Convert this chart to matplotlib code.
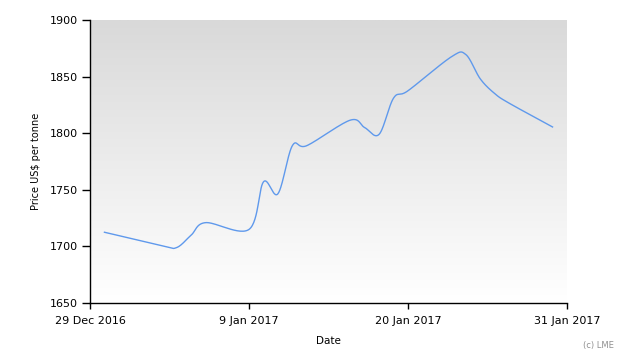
import datetime as dt

import matplotlib
matplotlib.use("Agg")
import matplotlib.dates as mdates
import matplotlib.pyplot as plt
import numpy as np

dates = [
    "2016-12-30", "2017-01-03", "2017-01-04", "2017-01-05", "2017-01-06",
    "2017-01-09", "2017-01-10", "2017-01-11", "2017-01-12", "2017-01-13",
    "2017-01-16", "2017-01-17", "2017-01-18", "2017-01-19", "2017-01-20",
    "2017-01-23", "2017-01-24", "2017-01-25", "2017-01-26", "2017-01-27",
    "2017-01-30",
]
prices = [
    1712.5, 1700.5, 1699.0, 1710.0, 1721.0,
    1715.0, 1757.0, 1746.5, 1789.0, 1789.0,
    1811.5, 1805.0, 1799.0, 1831.0, 1837.5,
    1867.5, 1869.5, 1848.0, 1835.0, 1826.5,
    1805.5,
]
tick_dates = ["2016-12-29", "2017-01-09", "2017-01-20", "2017-01-31"]
tick_labels = ["29 Dec 2016", "9 Jan 2017", "20 Jan 2017", "31 Jan 2017"]
y_ticks = [1650, 1700, 1750, 1800, 1850, 1900]

LINE_COLOR = "#5f99ec"
TEXT_COLOR = "black"


def to_num(values):
    return np.array([mdates.date2num(dt.datetime.strptime(v, "%Y-%m-%d")) for v in values])


def smooth_curve(x, y, steps=30):
    # catmull-rom style smoothing, like the original chart's spline
    px = np.concatenate(([2 * x[0] - x[1]], x, [2 * x[-1] - x[-2]]))
    py = np.concatenate(([2 * y[0] - y[1]], y, [2 * y[-1] - y[-2]]))
    xs, ys = [], []
    t = np.linspace(0, 1, steps, endpoint=False)
    for i in range(1, len(px) - 2):
        for arr, out in ((px, xs), (py, ys)):
            p0, p1, p2, p3 = arr[i - 1], arr[i], arr[i + 1], arr[i + 2]
            out.extend(
                0.5 * ((2 * p1) + (-p0 + p2) * t
                       + (2 * p0 - 5 * p1 + 4 * p2 - p3) * t ** 2
                       + (-p0 + 3 * p1 - 3 * p2 + p3) * t ** 3)
            )
    xs.append(x[-1])
    ys.append(y[-1])
    return np.array(xs), np.array(ys)


x = to_num(dates)
y = np.array(prices)
xt = to_num(tick_dates)

fig = plt.figure(figsize=(6.3, 3.6), dpi=100)
fig.patch.set_facecolor("white")
ax = fig.add_axes([90 / 630, 57 / 360, 477 / 630, 283 / 360])

ax.set_xlim(xt[0], xt[-1])
ax.set_ylim(y_ticks[0], y_ticks[-1])

gradient = np.linspace(0, 1, 256).reshape(-1, 1)
ax.imshow(
    gradient,
    extent=(xt[0], xt[-1], y_ticks[0], y_ticks[-1]),
    aspect="auto",
    cmap=matplotlib.colors.LinearSegmentedColormap.from_list("bg", ["#d9d9d9", "#ffffff"]),
    origin="upper",
    zorder=0,
)

sx, sy = smooth_curve(x, y)
ax.plot(sx, sy, color=LINE_COLOR, linewidth=1.0, zorder=2)

ax.set_xticks(xt)
ax.set_xticklabels(tick_labels)
ax.set_yticks(y_ticks)

for side in ("top", "right"):
    ax.spines[side].set_visible(False)
for side in ("left", "bottom"):
    ax.spines[side].set_color("black")
    ax.spines[side].set_linewidth(1.0)
ax.tick_params(labelsize=8, colors=TEXT_COLOR, width=1, direction="out")
ax.tick_params(axis="y", length=6, pad=3)
ax.tick_params(axis="x", length=4, pad=5)

ax.set_ylabel("Price US$ per tonne", fontsize=7)
ax.yaxis.set_label_coords(-(90 - 41) / 477, 0.5)
ax.set_xlabel("Date", fontsize=7.5)
ax.xaxis.set_label_coords(0.5, -0.115)

fig.text(0.974, 0.04, "(c) LME", fontsize=6, color="#909090", ha="right", va="center")

fig.savefig("out.png", dpi=100)
